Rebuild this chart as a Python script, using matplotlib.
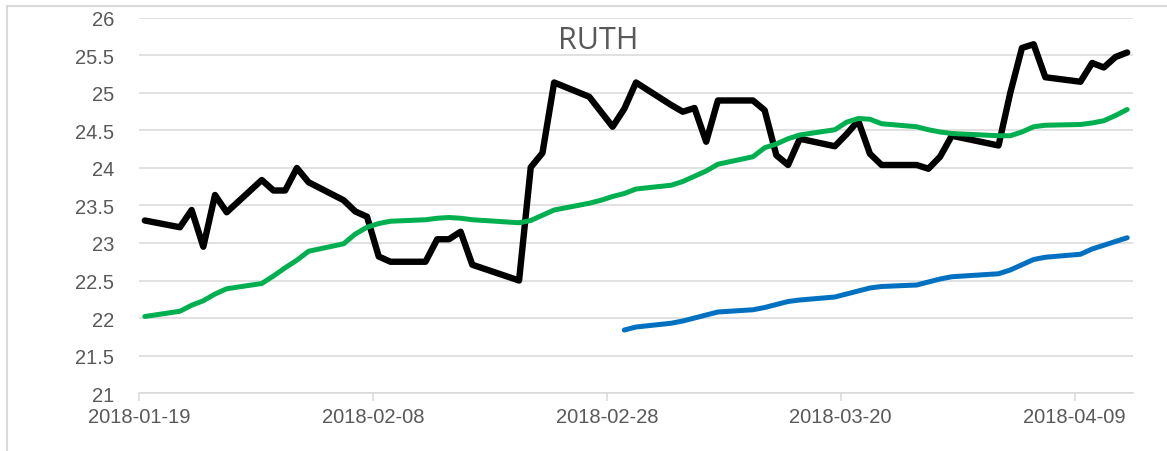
import matplotlib
matplotlib.use('Agg')
import matplotlib.pyplot as plt
import matplotlib.dates as mdates
from matplotlib.patches import Rectangle
import pandas as pd

# trading days shown on the chart
dates = ['2018-01-19', '2018-01-22', '2018-01-23', '2018-01-24', '2018-01-25',
         '2018-01-26', '2018-01-29', '2018-01-30', '2018-01-31', '2018-02-01',
         '2018-02-02', '2018-02-05', '2018-02-06', '2018-02-07', '2018-02-08',
         '2018-02-09', '2018-02-12', '2018-02-13', '2018-02-14', '2018-02-15',
         '2018-02-16', '2018-02-20', '2018-02-21', '2018-02-22', '2018-02-23',
         '2018-02-26', '2018-02-27', '2018-02-28', '2018-03-01', '2018-03-02',
         '2018-03-05', '2018-03-06', '2018-03-07', '2018-03-08', '2018-03-09',
         '2018-03-12', '2018-03-13', '2018-03-14', '2018-03-15', '2018-03-16',
         '2018-03-19', '2018-03-20', '2018-03-21', '2018-03-22', '2018-03-23',
         '2018-03-26', '2018-03-27', '2018-03-28', '2018-03-29', '2018-04-02',
         '2018-04-03', '2018-04-04', '2018-04-05', '2018-04-06', '2018-04-09',
         '2018-04-10', '2018-04-11', '2018-04-12', '2018-04-13']

# closing price (black)
price = [23.30, 23.21, 23.44, 22.95, 23.64, 23.41, 23.84, 23.70, 23.70, 24.00,
         23.81, 23.57, 23.42, 23.35, 22.82, 22.75, 22.75, 23.05, 23.05, 23.15,
         22.71, 22.50, 24.01, 24.20, 25.14, 24.95, 24.75, 24.55, 24.79, 25.14,
         24.84, 24.75, 24.80, 24.35, 24.90, 24.90, 24.77, 24.17, 24.04, 24.39,
         24.29, 24.45, 24.63, 24.19, 24.04, 24.04, 23.99, 24.15, 24.43, 24.30,
         25.00, 25.60, 25.65, 25.21, 25.15, 25.40, 25.34, 25.48, 25.54]

# short moving average (green)
ma_short = [22.02, 22.09, 22.17, 22.23, 22.32, 22.39, 22.46, 22.56, 22.67, 22.77,
            22.89, 22.99, 23.12, 23.21, 23.26, 23.29, 23.31, 23.33, 23.34, 23.33,
            23.31, 23.27, 23.30, 23.37, 23.44, 23.53, 23.57, 23.62, 23.66, 23.72,
            23.77, 23.82, 23.89, 23.96, 24.05, 24.15, 24.27, 24.32, 24.39, 24.44,
            24.51, 24.61, 24.66, 24.65, 24.59, 24.55, 24.51, 24.48, 24.46, 24.43,
            24.43, 24.48, 24.55, 24.57, 24.58, 24.60, 24.63, 24.70, 24.78]

# long moving average (blue), starts on 2018-03-01
ma_long_start = 28
ma_long = [21.84, 21.88, 21.93, 21.96, 22.00, 22.04, 22.08, 22.11, 22.14, 22.18,
           22.22, 22.24, 22.28, 22.32, 22.36, 22.40, 22.42, 22.44, 22.48, 22.52,
           22.55, 22.59, 22.64, 22.71, 22.78, 22.81, 22.85, 22.92, 22.97, 23.02,
           23.07]

tick_dates = ['2018-01-19', '2018-02-08', '2018-02-28', '2018-03-20', '2018-04-09']
y_ticks = [21, 21.5, 22, 22.5, 23, 23.5, 24, 24.5, 25, 25.5, 26]
title = 'RUTH'


def main():
    plt.rcParams['font.family'] = ['Liberation Sans Narrow', 'Liberation Sans', 'DejaVu Sans']
    grey = '#595959'
    grid = '#d9d9d9'

    fig = plt.figure(figsize=(11.67, 4.52), dpi=100)
    ax = fig.add_axes([0.1191, 0.1283, 0.9709 - 0.1191, 0.958 - 0.1283])

    # excel puts the points in the middle of each day
    x = pd.to_datetime(dates) + pd.Timedelta(hours=12)

    line_kw = dict(solid_joinstyle='round', solid_capstyle='round')
    ax.plot(x, price, color='black', lw=4.6, zorder=3, **line_kw)
    ax.plot(x, ma_short, color='#00b050', lw=3.6, zorder=4, **line_kw)
    ax.plot(x[ma_long_start:], ma_long, color='#0070c0', lw=3.6, zorder=4, **line_kw)

    ax.set_xlim(pd.Timestamp('2018-01-19'), pd.Timestamp('2018-04-14'))
    ax.set_ylim(21, 26)
    ax.set_xticks(pd.to_datetime(tick_dates))
    ax.xaxis.set_major_formatter(mdates.DateFormatter('%Y-%m-%d'))
    ax.set_yticks(y_ticks)
    ax.set_yticklabels(['%g' % v for v in y_ticks])

    # gridlines and axis styling
    ax.grid(axis='y', color=grid, lw=1.1, zorder=0)
    ax.set_axisbelow(True)
    for s in ['left', 'right', 'top']:
        ax.spines[s].set_visible(False)
    ax.spines['bottom'].set_color(grid)
    ax.spines['bottom'].set_linewidth(1.1)
    ax.tick_params(axis='x', colors=grey, labelsize=14.5, length=6, width=1.1,
                   color=grid, pad=4)
    ax.tick_params(axis='y', colors=grey, labelsize=14.5, length=0, pad=18)

    ax.text(0.462, 0.94, title, transform=ax.transAxes, ha='center', va='center',
            fontsize=22, color=grey, family=['Open Sans', 'DejaVu Sans'])

    # outer chart border, cut off on the right and bottom
    fig.add_artist(Rectangle((0.006, -0.1), 1.2, 1.0845, transform=fig.transFigure,
                             fill=False, ec=grid, lw=1.5))

    fig.savefig('out.png', dpi=100)


if __name__ == '__main__':
    main()
